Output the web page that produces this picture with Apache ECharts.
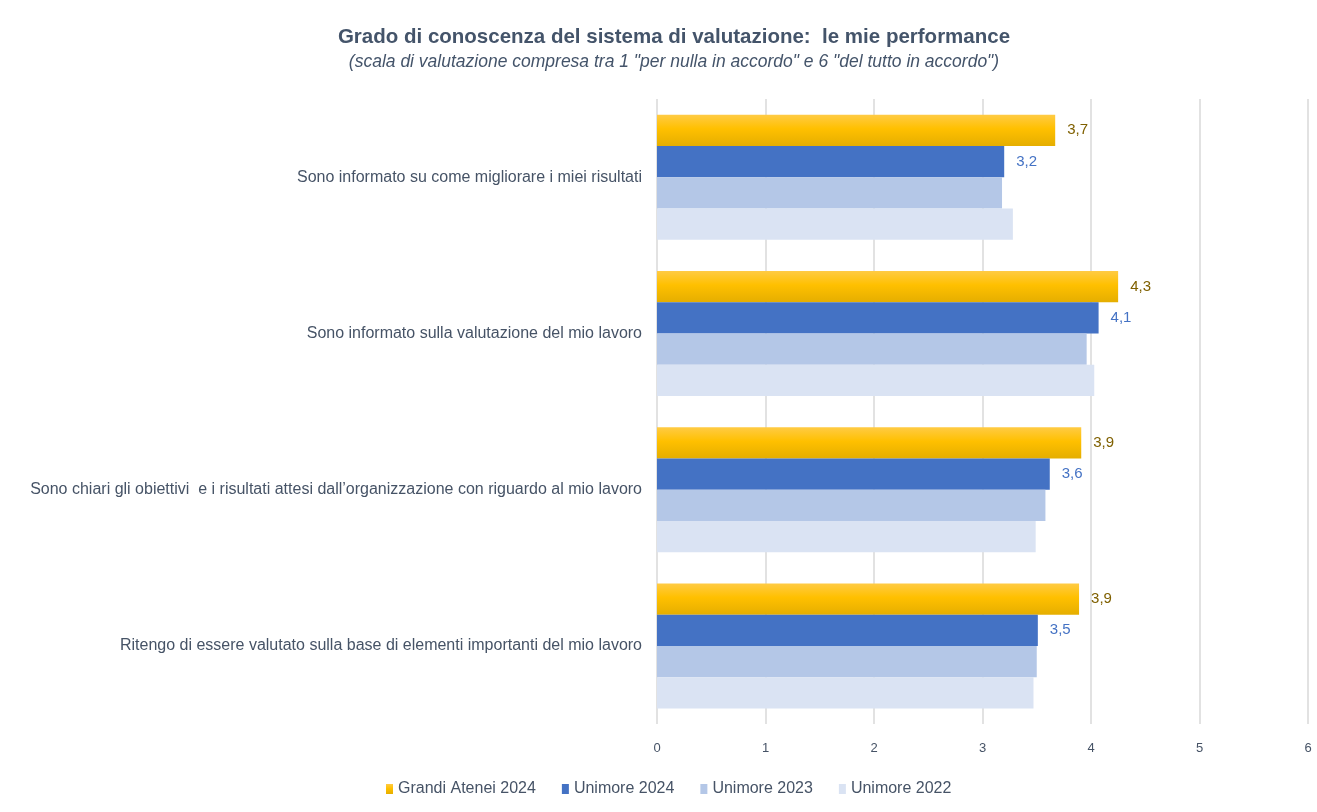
<!DOCTYPE html>
<html><head><meta charset="utf-8">
<script src="https://cdn.jsdelivr.net/npm/echarts@6/dist/echarts.min.js"></script>
<style>html,body{margin:0;padding:0;background:#fff}#c{width:1317px;height:812px}</style>
</head><body><div id="c"></div>
<script>
const categories = [
  "Sono informato su come migliorare i miei risultati",
  "Sono informato sulla valutazione del mio lavoro",
  "Sono chiari gli obiettivi  e i risultati attesi dall\u2019organizzazione con riguardo al mio lavoro",
  "Ritengo di essere valutato sulla base di elementi importanti del mio lavoro"
];
const seriesNames = ["Grandi Atenei 2024", "Unimore 2024", "Unimore 2023", "Unimore 2022"];
const grandiAtenei2024 = [3.67, 4.25, 3.91, 3.89];
const unimore2024 = [3.20, 4.07, 3.62, 3.51];
const unimore2023 = [3.18, 3.96, 3.58, 3.50];
const unimore2022 = [3.28, 4.03, 3.49, 3.47];
const xTicks = [0, 1, 2, 3, 4, 5, 6];

const FONT = "'Liberation Sans', 'DejaVu Sans', sans-serif";
const fmt = p => p.value.toFixed(1).replace('.', ',');
const gold = new echarts.graphic.LinearGradient(0, 0, 0, 1, [
  {offset: 0, color: '#FFCB45'}, {offset: 0.45, color: '#FFC000'}, {offset: 1, color: '#E5AE00'}
]);
const chart = echarts.init(document.getElementById('c'));
chart.setOption({
  animation: false,
  title: {
    text: 'Grado di conoscenza del sistema di valutazione:  le mie performance',
    subtext: '(scala di valutazione compresa tra 1 "per nulla in accordo" e 6 "del tutto in accordo")',
    left: 669, textAlign: 'center', top: 22, itemGap: 5,
    textStyle: {fontFamily: FONT, fontSize: 20.5, fontWeight: 'bold', color: '#44546A'},
    subtextStyle: {fontFamily: FONT, fontSize: 17.5, fontStyle: 'italic', color: '#44546A'}
  },
  legend: {
    bottom: 10, left: 381, itemWidth: 7, itemHeight: 10, itemGap: 26,
    icon: 'rect',
    textStyle: {fontFamily: FONT, fontSize: 16, color: '#465366'},
    data: seriesNames
  },
  grid: {left: 657, right: 9, top: 99, bottom: 88, containLabel: false},
  xAxis: {
    type: 'value', min: 0, max: 6, interval: 1,
    axisLine: {show: false}, axisTick: {show: false},
    splitLine: {show: true, lineStyle: {color: '#D9D9D9', width: 1.5}},
    axisLabel: {fontFamily: FONT, fontSize: 13, color: '#465366', margin: 18,
      formatter: v => xTicks.includes(v) ? String(v) : ''}
  },
  yAxis: {
    type: 'category', data: categories, inverse: true,
    axisLine: {show: false}, axisTick: {show: false},
    axisLabel: {fontFamily: FONT, fontSize: 16, color: '#465366', margin: 15}
  },
  series: [
    {name: seriesNames[0], type: 'bar', data: grandiAtenei2024, barGap: '0%', barCategoryGap: '20%',
     itemStyle: {color: gold},
     label: {show: true, position: 'right', distance: 12, formatter: fmt, fontFamily: FONT, fontSize: 15, color: '#7F6000'}},
    {name: seriesNames[1], type: 'bar', data: unimore2024, barGap: '0%', barCategoryGap: '20%',
     itemStyle: {color: '#4472C4'},
     label: {show: true, position: 'right', distance: 12, formatter: fmt, fontFamily: FONT, fontSize: 15, color: '#4472C4'}},
    {name: seriesNames[2], type: 'bar', data: unimore2023, barGap: '0%', barCategoryGap: '20%',
     itemStyle: {color: '#B4C7E7'}},
    {name: seriesNames[3], type: 'bar', data: unimore2022, barGap: '0%', barCategoryGap: '20%',
     itemStyle: {color: '#DAE3F3'}}
  ]
});
</script></body></html>
